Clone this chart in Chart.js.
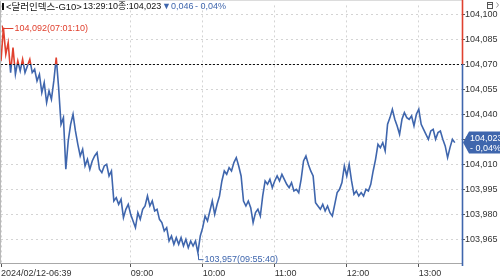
<!DOCTYPE html>
<html><head><meta charset="utf-8">
<script src="https://cdn.jsdelivr.net/npm/chart.js@4/dist/chart.umd.min.js"></script>
<style>html,body{margin:0;padding:0;background:#fff;overflow:hidden}#wrap{width:500px;height:279px}</style>
</head><body><div id="wrap"><canvas id="c" width="500" height="279"></canvas></div>
<script>
// ---- data ----
const instrument = '<달러인덱스-G10>';
const lastTime = '13:29:10';
const dateLabel = '2024/02/12';
const prevClose = 104.070;
const lastPrice = 104.023;
const changeAbs = 0.046;
const changePct = 0.04;
const highTime = '07:01:10';
const lowTime = '09:55:40';
const yTickValues = [103.965, 103.980, 103.995, 104.010, 104.025, 104.040, 104.055, 104.070, 104.085, 104.100];
const yMin = 103.9508, yMax = 104.1053;
const sessionStart = '06:39', dayOpen = '09:00', axisEnd = '13:36';
const preOpenSlots = 54;      // compressed early-session slots
const slotMinutes = 2;        // slot width after 09:00

const prices = [
104.072,104.092,104.076,104.083,104.065,104.080,104.064,104.072,104.066,104.073,
104.065,104.069,104.073,104.065,104.067,104.060,104.064,104.053,104.059,104.047,
104.054,104.049,104.060,104.074,104.056,104.034,104.038,104.007,104.024,104.034,
104.040,104.030,104.022,104.015,104.019,104.009,104.013,104.007,104.012,104.015,
104.017,104.007,104.005,104.009,104.010,104.003,104.006,103.988,103.990,103.986,
103.989,103.978,103.983,103.986,103.980,103.976,103.972,103.981,103.977,103.983,
103.985,103.991,103.985,103.988,103.982,103.983,103.977,103.975,103.970,103.972,
103.964,103.967,103.962,103.966,103.962,103.966,103.961,103.965,103.960,103.964,
103.961,103.964,103.957,103.967,103.972,103.979,103.976,103.982,103.988,103.980,
103.986,103.991,104.000,104.006,104.004,104.008,104.006,104.011,104.014,104.009,
104.003,103.988,103.985,103.988,103.984,103.975,103.981,103.983,103.979,103.991,
104.000,103.998,104.001,103.996,104.000,104.003,104.000,104.004,104.001,103.998,
103.996,103.999,103.994,103.995,103.993,104.001,104.012,104.015,104.010,104.006,
104.003,103.987,103.985,103.983,103.986,103.982,103.985,103.981,103.979,103.986,
103.993,103.995,103.999,104.009,104.003,104.010,104.000,103.992,103.994,103.991,
103.993,103.991,103.995,103.994,103.998,104.006,104.013,104.022,104.020,104.023,
104.018,104.034,104.038,104.043,104.037,104.033,104.028,104.037,104.041,104.038,
104.037,104.039,104.033,104.040,104.043,104.034,104.031,104.028,104.025,104.030,
104.031,104.025,104.029,104.030,104.025,104.021,104.014,104.020,104.025,104.023
];

// ---- category slots (time labels) ----
function toMin(s){const p=s.split(':');return +p[0]*60 + +p[1];}
function toStr(m){return String(Math.floor(m/60)).padStart(2,'0')+':'+String(m%60).padStart(2,'0');}
const times = [];
{
  const a = toMin(sessionStart), b = toMin(dayOpen);
  for (let i = 0; i < preOpenSlots; i++) times.push(toStr(a + Math.round(i*(b-a)/preOpenSlots)));
  for (let m = b; m <= toMin(axisEnd); m += slotMinutes) times.push(toStr(m));
}

const fmt = v => v.toFixed(3).replace('.', ',');
const pct = v => v.toFixed(2).replace('.', ',') + '%';
const RED = '#e0412f', BLUE = '#3f66ad';
const FONT = "'Liberation Sans', Arial, 'Noto Sans CJK KR', sans-serif";
const KFONT = "'Liberation Sans', 'Noto Sans CJK KR', sans-serif";

const overlay = {
  id: 'overlay',
  beforeDatasetDraw(chart, args) {
    const {ctx, chartArea: a, scales: {y}} = chart;
    const yr = y.getPixelForValue(prevClose);
    ctx.save();
    ctx.beginPath();
    if (args.index === 0) ctx.rect(a.left - 5, a.top - 5, a.right - a.left + 10, yr - a.top + 5);
    else ctx.rect(a.left - 5, yr, a.right - a.left + 10, a.bottom - yr + 5);
    ctx.clip();
  },
  afterDatasetDraw(chart) { chart.ctx.restore(); },
  afterDatasetsDraw(chart) {
    const {ctx, chartArea: a, scales: {y}} = chart;
    const yr = Math.round(y.getPixelForValue(prevClose)) + 0.5;
    ctx.save();
    ctx.strokeStyle = '#111'; ctx.lineWidth = 1; ctx.setLineDash([2, 2]);
    ctx.beginPath(); ctx.moveTo(a.left, yr); ctx.lineTo(a.right, yr); ctx.stroke();
    ctx.restore();
  },
  afterDraw(chart) {
    const {ctx, chartArea: a, scales: {x, y}} = chart;
    const yr = y.getPixelForValue(prevClose);
    ctx.save();
    // frame
    ctx.strokeStyle = '#b8b8b8'; ctx.lineWidth = 1;
    ctx.beginPath(); ctx.moveTo(0.5, 0); ctx.lineTo(0.5, a.bottom); ctx.stroke();
    ctx.strokeStyle = '#a8a8a8';
    ctx.beginPath(); ctx.moveTo(0, a.bottom + 0.5); ctx.lineTo(a.right, a.bottom + 0.5); ctx.stroke();
    ctx.strokeStyle = '#dcdcdc';
    ctx.beginPath(); ctx.moveTo(0, 0.5); ctx.lineTo(a.right, 0.5); ctx.stroke();
    // right axis two-colour
    ctx.lineWidth = 1.6;
    ctx.strokeStyle = RED;
    ctx.beginPath(); ctx.moveTo(a.right + 0.5, 0); ctx.lineTo(a.right + 0.5, yr); ctx.stroke();
    ctx.strokeStyle = BLUE;
    ctx.beginPath(); ctx.moveTo(a.right + 0.5, yr); ctx.lineTo(a.right + 0.5, a.bottom + 3); ctx.stroke();

    // header
    ctx.textBaseline = 'middle';
    ctx.fillStyle = '#111';
    ctx.fillRect(2, 3, 2, 7);
    ctx.font = '9.5px ' + KFONT;
    ctx.fillText(instrument, 6, 7);
    ctx.font = '9px ' + FONT;
    ctx.fillText(lastTime, 83, 7);
    ctx.fillText('종:' + fmt(lastPrice), 118, 7);
    ctx.fillStyle = BLUE;
    ctx.fillText('▼' + fmt(changeAbs), 162, 7);
    ctx.fillText('- ' + pct(changePct), 195, 7);

    // high annotation
    const hi = Math.max(...prices), hiI = prices.indexOf(hi);
    const hx = x.getPixelForValue(hiI), hy = y.getPixelForValue(hi);
    ctx.strokeStyle = RED; ctx.fillStyle = RED; ctx.lineWidth = 1;
    ctx.beginPath(); ctx.moveTo(hx - 1, Math.round(hy) + 0.5); ctx.lineTo(hx + 10, Math.round(hy) + 0.5); ctx.stroke();
    ctx.beginPath(); ctx.moveTo(Math.round(hx) - 0.5, hy - 2); ctx.lineTo(Math.round(hx) - 0.5, hy + 4); ctx.stroke();
    ctx.font = '9px ' + FONT;
    ctx.textBaseline = 'middle';
    ctx.fillText(fmt(hi) + '(' + highTime + ')', hx + 11, hy + 1);

    // low annotation
    const lo = Math.min(...prices), loI = prices.indexOf(lo);
    const lx = Math.round(x.getPixelForValue(loI)) + 0.5, ly = y.getPixelForValue(lo);
    ctx.strokeStyle = BLUE; ctx.fillStyle = BLUE;
    ctx.beginPath(); ctx.moveTo(lx, ly + 1); ctx.lineTo(lx, ly + 7); ctx.lineTo(lx + 5, ly + 7); ctx.stroke();
    ctx.fillText(fmt(lo) + '(' + lowTime + ')', lx + 6, ly + 7);

    // price tag
    const py = y.getPixelForValue(lastPrice);
    const L = a.right + 1;
    ctx.fillStyle = BLUE;
    ctx.beginPath();
    ctx.moveTo(L, py); ctx.lineTo(L + 6, py - 11); ctx.lineTo(500, py - 11);
    ctx.lineTo(500, py + 11); ctx.lineTo(L + 6, py + 11); ctx.closePath(); ctx.fill();
    ctx.fillStyle = '#fff';
    ctx.font = '9px ' + FONT;
    ctx.textBaseline = 'middle';
    ctx.fillText(fmt(lastPrice), L + 7, py - 4.5);
    ctx.fillText('- ' + pct(changePct), L + 7, py + 5.5);

    // top-right icons
    ctx.strokeStyle = '#555'; ctx.lineWidth = 1; ctx.fillStyle = '#fff';
    ctx.fillRect(487, 2, 6, 7);
    ctx.strokeRect(487.5, 2.5, 5, 6);
    ctx.beginPath(); ctx.moveTo(487.5, 4.5); ctx.lineTo(492.5, 4.5); ctx.stroke();
    ctx.strokeStyle = '#999';
    ctx.beginPath(); ctx.moveTo(496.5, 2.5); ctx.lineTo(498.5, 5); ctx.lineTo(496.5, 7.5); ctx.stroke();
    ctx.restore();
  }
};

const lineDs = (color) => ({
  data: prices, borderColor: color, borderWidth: 1.6, pointRadius: 0, tension: 0, fill: false
});

new Chart(document.getElementById('c'), {
  type: 'line',
  data: { labels: times, datasets: [lineDs(RED), lineDs(BLUE)] },
  options: {
    responsive: false, animation: false, devicePixelRatio: 1,
    layout: { padding: { left: 1, top: 2, right: 0, bottom: 0 } },
    plugins: { legend: { display: false }, tooltip: { enabled: false } },
    scales: {
      x: {
        type: 'category',
        grid: { color: '#d4d4d4', tickColor: '#555', tickLength: 4 },
        border: { display: false, dash: [2, 3] },
        ticks: {
          autoSkip: false, maxRotation: 0, minRotation: 0, align: 'start', padding: 1,
          color: '#333', font: { family: FONT, size: 9 },
          callback: function (v, i) {
            const l = times[i];
            if (i === 0) return dateLabel + '-' + l;
            if (i < preOpenSlots) return null;
            return l.endsWith(':00') ? l : null;
          }
        },
        afterFit: s => { s.height = 16; }
      },
      y: {
        position: 'right', min: yMin, max: yMax,
        afterBuildTicks: s => { s.ticks = yTickValues.map(v => ({ value: v })); },
        grid: { color: '#d4d4d4', tickColor: '#555', tickLength: 3 },
        border: { display: false, dash: [2, 3] },
        ticks: { padding: 0, color: '#333', font: { family: FONT, size: 9 }, callback: v => fmt(v) },
        afterFit: s => { s.width = 38; }
      }
    }
  },
  plugins: [overlay]
});
</script></body></html>
